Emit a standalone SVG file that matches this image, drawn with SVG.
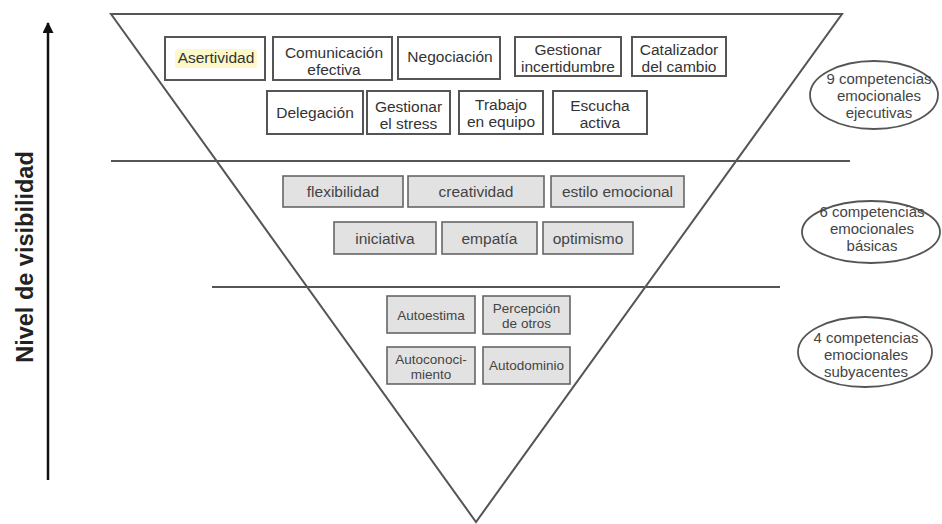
<svg xmlns="http://www.w3.org/2000/svg" width="942" height="524" viewBox="0 0 942 524">
  <defs>
    <marker id="arrowhead" markerWidth="11" markerHeight="11" refX="10" refY="5.5" orient="auto" markerUnits="userSpaceOnUse" viewBox="0 0 11 11">
      <path d="M0,0 L11,5.5 L0,11 Z" fill="#111"/>
    </marker>
    <style>
      .frame { fill: none; stroke: #555; stroke-width: 2; }
      .box { fill: #fff; stroke: #555; stroke-width: 2; }
      .gbox { fill: #e2e2e2; stroke: #666; stroke-width: 1.6; }
      .oval { fill: #fff; stroke: #555; stroke-width: 1.8; }
      .t { font-family: "Liberation Sans", Arial, sans-serif; font-size: 15.5px; fill: #333; text-anchor: middle; }
      .tg { font-family: "Liberation Sans", Arial, sans-serif; font-size: 15.5px; fill: #444; text-anchor: middle; }
      .ts { font-family: "Liberation Sans", Arial, sans-serif; font-size: 13.5px; fill: #444; text-anchor: middle; }
      .to { font-family: "Liberation Sans", Arial, sans-serif; font-size: 15px; fill: #444; text-anchor: middle; }
      .axis { font-family: "Liberation Sans", Arial, sans-serif; font-size: 23.5px; font-weight: bold; fill: #222; text-anchor: middle; }
    </style>
  </defs>
  <rect width="942" height="524" fill="#fff"/>

  <!-- inverted pyramid, level dividers and visibility axis -->
  <g id="connectors">
    <polygon class="frame" points="111,14 842,14 476,522"/>
    <line class="frame" x1="111" y1="161" x2="850" y2="161"/>
    <line class="frame" x1="212" y1="287" x2="780" y2="287"/>
    <line x1="48" y1="480" x2="48" y2="23" stroke="#111" stroke-width="2.5" marker-end="url(#arrowhead)"/>
  </g>

  <g id="axis-label">
    <text class="axis" transform="translate(33,257) rotate(-90)">Nivel de visibilidad</text>
  </g>

  <!-- executive competencies -->
  <g id="asertividad">
    <rect class="box" x="165" y="37" width="100" height="43"/>
    <rect x="175" y="49" width="82" height="19" rx="3" fill="#fdf8c8"/>
    <text class="t" x="216" y="63">Asertividad</text>
  </g>
  <g id="comunicacion">
    <rect class="box" x="273" y="37" width="119" height="43"/>
    <text class="t" x="334" y="58">Comunicación</text>
    <text class="t" x="334" y="75">efectiva</text>
  </g>
  <g id="negociacion">
    <rect class="box" x="398" y="37" width="102" height="42"/>
    <text class="t" x="450" y="62">Negociación</text>
  </g>
  <g id="incertidumbre">
    <rect class="box" x="515" y="37" width="106" height="39"/>
    <text class="t" x="568" y="55">Gestionar</text>
    <text class="t" x="568" y="72">incertidumbre</text>
  </g>
  <g id="catalizador">
    <rect class="box" x="632" y="37" width="94" height="39"/>
    <text class="t" x="679" y="55">Catalizador</text>
    <text class="t" x="679" y="72">del cambio</text>
  </g>
  <g id="delegacion">
    <rect class="box" x="267" y="91" width="96" height="43"/>
    <text class="t" x="315" y="118">Delegación</text>
  </g>
  <g id="stress">
    <rect class="box" x="367" y="91" width="83" height="43"/>
    <text class="t" x="408.5" y="112">Gestionar</text>
    <text class="t" x="408.5" y="129">el stress</text>
  </g>
  <g id="trabajo">
    <rect class="box" x="459" y="91" width="84" height="43"/>
    <text class="t" x="501" y="110">Trabajo</text>
    <text class="t" x="501" y="127">en equipo</text>
  </g>
  <g id="escucha">
    <rect class="box" x="553" y="91" width="94" height="43"/>
    <text class="t" x="600" y="111">Escucha</text>
    <text class="t" x="600" y="128">activa</text>
  </g>

  <!-- basic competencies -->
  <g id="flexibilidad">
    <rect class="gbox" x="283" y="176" width="120" height="31"/>
    <text class="tg" x="343" y="197">flexibilidad</text>
  </g>
  <g id="creatividad">
    <rect class="gbox" x="408" y="176" width="136" height="31"/>
    <text class="tg" x="476" y="197">creatividad</text>
  </g>
  <g id="estilo">
    <rect class="gbox" x="551" y="176" width="133" height="31"/>
    <text class="tg" x="617.5" y="197">estilo emocional</text>
  </g>
  <g id="iniciativa">
    <rect class="gbox" x="334" y="222" width="102" height="32"/>
    <text class="tg" x="385" y="244">iniciativa</text>
  </g>
  <g id="empatia">
    <rect class="gbox" x="442" y="222" width="95" height="32"/>
    <text class="tg" x="489.5" y="244">empatía</text>
  </g>
  <g id="optimismo">
    <rect class="gbox" x="543" y="222" width="90" height="32"/>
    <text class="tg" x="588" y="244">optimismo</text>
  </g>

  <!-- underlying competencies -->
  <g id="autoestima">
    <rect class="gbox" x="387" y="296" width="88" height="37"/>
    <text class="ts" x="431" y="320">Autoestima</text>
  </g>
  <g id="percepcion">
    <rect class="gbox" x="483" y="296" width="87" height="38"/>
    <text class="ts" x="526.5" y="313">Percepción</text>
    <text class="ts" x="526.5" y="328">de otros</text>
  </g>
  <g id="autoconocimiento">
    <rect class="gbox" x="387" y="347" width="88" height="37"/>
    <text class="ts" x="431" y="364">Autoconoci-</text>
    <text class="ts" x="431" y="379">miento</text>
  </g>
  <g id="autodominio">
    <rect class="gbox" x="483" y="347" width="87" height="37"/>
    <text class="ts" x="526.5" y="370">Autodominio</text>
  </g>

  <!-- level summaries -->
  <g id="nivel-ejecutivas">
    <ellipse class="oval" cx="874" cy="95" rx="64" ry="34"/>
    <text class="to" x="879" y="84">9 competencias</text>
    <text class="to" x="879" y="101">emocionales</text>
    <text class="to" x="879" y="118">ejecutivas</text>
  </g>
  <g id="nivel-basicas">
    <ellipse class="oval" cx="871" cy="232" rx="69" ry="31"/>
    <text class="to" x="872" y="217">6 competencias</text>
    <text class="to" x="872" y="234">emocionales</text>
    <text class="to" x="872" y="251">básicas</text>
  </g>
  <g id="nivel-subyacentes">
    <ellipse class="oval" cx="865" cy="352" rx="67" ry="35"/>
    <text class="to" x="866" y="343">4 competencias</text>
    <text class="to" x="866" y="360">emocionales</text>
    <text class="to" x="866" y="377">subyacentes</text>
  </g>
</svg>
